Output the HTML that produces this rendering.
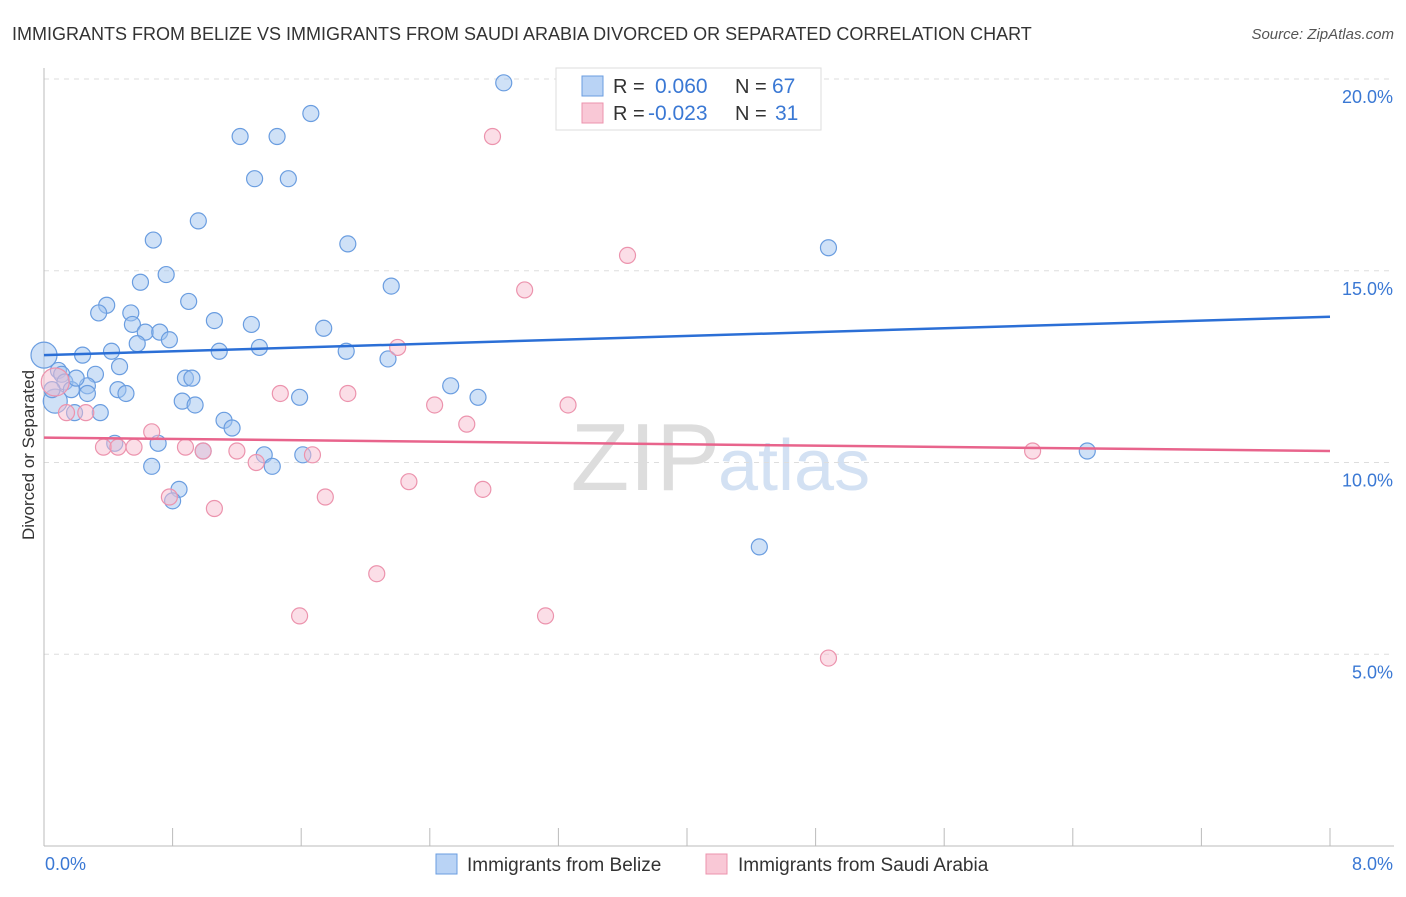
<!DOCTYPE html>
<html><head><meta charset="utf-8"><style>
body{margin:0;background:#fff;font-family:"Liberation Sans",sans-serif;}
svg text{font-family:"Liberation Sans",sans-serif;}
</style></head><body>
<svg id="c" width="1406" height="892" xmlns="http://www.w3.org/2000/svg">
<text x="12" y="40" font-size="18" fill="#333">IMMIGRANTS FROM BELIZE VS IMMIGRANTS FROM SAUDI ARABIA DIVORCED OR SEPARATED CORRELATION CHART</text>
<text x="1394" y="39" font-size="15" fill="#555" text-anchor="end" font-style="italic">Source: ZipAtlas.com</text>
<text x="720" y="490" font-size="96" fill="#ddd" text-anchor="end" font-family="Liberation Serif">ZIP</text>
<text x="718" y="490" font-size="72" fill="#d3e1f3">atlas</text>
<g id="grid"></g><g id="axes"></g><g id="pts"></g><g id="lines"></g>
<text transform="translate(34,455) rotate(-90)" font-size="17" fill="#333" text-anchor="middle">Divorced or Separated</text>
<g>
<rect x="556" y="68" width="265" height="62" fill="#fff" stroke="#ddd"/>
<rect x="582" y="76" width="21" height="20" fill="#b9d3f5" stroke="#6a9de0"/>
<rect x="582" y="103" width="21" height="20" fill="#f9c8d6" stroke="#ec93ad"/>
<text x="613" y="93" font-size="20" fill="#333">R =</text><text x="655" y="93" font-size="21" fill="#3a78d4">0.060</text>
<text x="735" y="93" font-size="20" fill="#333">N =</text><text x="772" y="93" font-size="21" fill="#3a78d4">67</text>
<text x="613" y="120" font-size="20" fill="#333">R =</text><text x="648" y="120" font-size="21" fill="#3a78d4">-0.023</text>
<text x="735" y="120" font-size="20" fill="#333">N =</text><text x="775" y="120" font-size="21" fill="#3a78d4">31</text>
</g>
<g>
<rect x="436" y="854" width="21" height="20" fill="#b9d3f5" stroke="#6a9de0"/>
<text x="467" y="871" font-size="19" fill="#333">Immigrants from Belize</text>
<rect x="706" y="854" width="21" height="20" fill="#f9c8d6" stroke="#ec93ad"/>
<text x="738" y="871" font-size="19" fill="#333">Immigrants from Saudi Arabia</text>
</g>
</svg>
<script>
const yTicks=[5,10,15,20];
const yTickLabels=["5.0%","10.0%","15.0%","20.0%"];
const belizeX=[2.86,1.66,1.22,1.45,1.31,1.52,0.96,0.68,1.89,4.88,0.76,0.6,2.16,0.9,0.39,0.34,0.54,1.06,1.29,0.55,0.63,0.72,1.74,0.78,0.58,1.34,1.88,0.42,1.09,0.24,0.0,2.14,0.47,0.09,0.11,0.32,0.88,0.92,0.13,0.17,0.27,2.53,0.46,0.51,0.27,0.86,1.59,2.7,0.94,0.07,0.19,0.35,1.12,1.17,0.44,0.71,0.99,1.37,1.61,6.49,0.67,1.42,0.84,0.8,4.45,0.05,0.2];
const belizeY=[19.9,19.1,18.5,18.5,17.4,17.4,16.3,15.8,15.7,15.6,14.9,14.7,14.6,14.2,14.1,13.9,13.9,13.7,13.6,13.6,13.4,13.4,13.5,13.2,13.1,13.0,12.9,12.9,12.9,12.8,12.8,12.7,12.5,12.4,12.3,12.3,12.2,12.2,12.1,11.9,12.0,12.0,11.9,11.8,11.8,11.6,11.7,11.7,11.5,11.6,11.3,11.3,11.1,10.9,10.5,10.5,10.3,10.2,10.2,10.3,9.9,9.9,9.3,9.0,7.8,11.9,12.2];
const belizeR=[8,8,8,8,8,8,8,8,8,8,8,8,8,8,8,8,8,8,8,8,8,8,8,8,8,8,8,8,8,8,13,8,8,8,8,8,8,8,8,8,8,8,8,8,8,8,8,8,8,12,8,8,8,8,8,8,8,8,8,8,8,8,8,8,8,8,8];
const saudiX=[2.79,3.63,2.99,2.2,1.47,1.89,2.43,3.26,0.26,0.14,2.63,0.67,0.37,0.56,0.46,0.88,0.99,1.2,1.67,1.32,6.15,2.27,2.73,1.75,0.78,1.06,2.07,3.12,1.59,4.88,0.07];
const saudiY=[18.5,15.4,14.5,13.0,11.8,11.8,11.5,11.5,11.3,11.3,11.0,10.8,10.4,10.4,10.4,10.4,10.3,10.3,10.2,10.0,10.3,9.5,9.3,9.1,9.1,8.8,7.1,6.0,6.0,4.9,12.1];
const saudiR=[8,8,8,8,8,8,8,8,8,8,8,8,8,8,8,8,8,8,8,8,8,8,8,8,8,8,8,8,8,8,14];
const belizeTrend=[12.8,13.8];
const saudiTrend=[10.65,10.3];
const NS="http://www.w3.org/2000/svg";
const X0=44,X1=1330,Y0=846,PPY=38.35;
const xs=v=>X0+v/8*(X1-X0);
const ys=v=>Y0-v*PPY;
function mk(t,a,p){const e=document.createElementNS(NS,t);for(const k in a)e.setAttribute(k,a[k]);p.appendChild(e);return e;}
const grid=document.getElementById('grid'),axes=document.getElementById('axes'),pts=document.getElementById('pts'),lines=document.getElementById('lines');
yTicks.forEach((t,i)=>{
const g=mk('line',{x1:X0,x2:1394,y1:ys(t),y2:ys(t),stroke:'#ddd','stroke-dasharray':'5,5'},grid);


const tx=mk('text',{x:1393,y:ys(t)+24,'font-size':18,fill:'#3a78d4','text-anchor':'end'},axes);
tx.textContent=yTickLabels[i];


});
const topGrid=mk('line',{x1:X0,x2:1394,y1:79,y2:79,stroke:'#ddd','stroke-dasharray':'5,5'},grid);


const ya=mk('line',{x1:X0,x2:X0,y1:68,y2:Y0,stroke:'#bbb'},axes);


const xa=mk('line',{x1:X0,x2:1394,y1:Y0,y2:Y0,stroke:'#bbb'},axes);


for(let i=0;i<=10;i++){const tk=mk('line',{x1:xs(i*0.8),x2:xs(i*0.8),y1:Y0,y2:Y0-18,stroke:'#bbb'},axes);

}
const l0=mk('text',{x:45,y:870,'font-size':18,fill:'#3a78d4'},axes);l0.textContent='0.0%';


const l1=mk('text',{x:1393,y:870,'font-size':18,fill:'#3a78d4','text-anchor':'end'},axes);l1.textContent='8.0%';


belizeX.forEach((x,i)=>{const c=mk('circle',{cx:xs(x),cy:ys(belizeY[i]),r:belizeR[i],fill:'rgba(160,196,240,0.5)',stroke:'#6a9de0','stroke-width':1.2},pts);

});
saudiX.forEach((x,i)=>{const c=mk('circle',{cx:xs(x),cy:ys(saudiY[i]),r:saudiR[i],fill:'rgba(248,190,208,0.5)',stroke:'#ec93ad','stroke-width':1.2},pts);

});
const bl=mk('line',{x1:xs(0),x2:xs(8),y1:ys(belizeTrend[0]),y2:ys(belizeTrend[1]),stroke:'#2b6fd6','stroke-width':2.5},lines);


const sl=mk('line',{x1:xs(0),x2:xs(8),y1:ys(saudiTrend[0]),y2:ys(saudiTrend[1]),stroke:'#e8648c','stroke-width':2.5},lines);


</script>
</body></html>
